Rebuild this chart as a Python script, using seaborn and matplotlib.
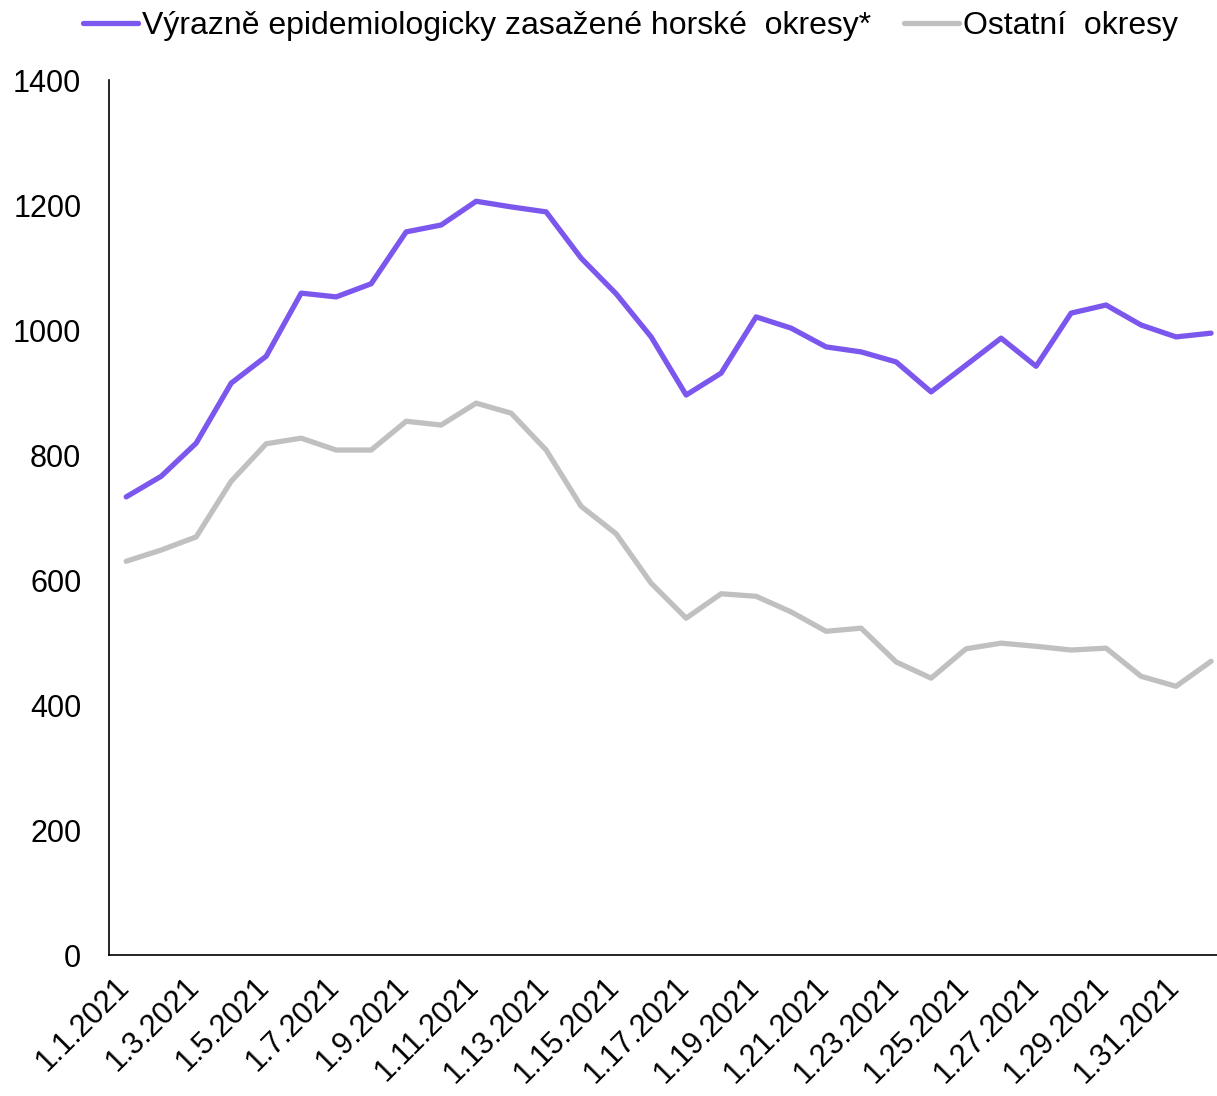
import pandas as pd
import matplotlib
matplotlib.use("Agg")
import matplotlib.pyplot as plt
import matplotlib.transforms as mtransforms
import seaborn as sns

# data (one value per day)
days = [f"1.{d}.2021" for d in range(1, 33)]
horske = [733, 766, 819, 915, 958, 1059, 1053, 1074, 1157, 1168, 1206, 1197,
          1189, 1115, 1058, 989, 896, 931, 1021, 1003, 973, 965, 949, 901,
          944, 987, 942, 1027, 1040, 1008, 989, 995]
ostatni = [630, 648, 669, 758, 818, 827, 808, 808, 854, 848, 883, 867,
           808, 718, 674, 595, 539, 578, 574, 549, 518, 523, 469, 443,
           490, 499, 494, 488, 491, 446, 430, 470]

label_a = "Výrazně epidemiologicky zasažené horské  okresy*"
label_b = "Ostatní  okresy"

df = pd.DataFrame({"den": days, label_a: horske, label_b: ostatni})
long_df = df.melt(id_vars="den", var_name="skupina", value_name="hodnota")
long_df["pos"] = long_df["den"].map({d: i for i, d in enumerate(days)})

sns.set_style("white")
plt.rcParams["font.family"] = ["Liberation Sans", "DejaVu Sans"]
plt.rcParams["text.color"] = "black"
plt.rcParams["xtick.color"] = "black"
plt.rcParams["ytick.color"] = "black"

fig = plt.figure(figsize=(12.17, 10.96), dpi=100)
ax = fig.add_axes([0.0896, 0.1286, 0.9104, 0.7984])

sns.lineplot(data=long_df, x="pos", y="hodnota", hue="skupina",
             palette=["#7B57EE", "#C0C0C0"], linewidth=3.8, ax=ax, legend=False)

ax.set_xlim(-0.49, 31.17)
ax.set_ylim(0, 1400)
ax.set_yticks(range(0, 1401, 200))
ax.set_xticks(range(0, 32, 2))
ax.set_xticklabels(days[::2], rotation=45, ha="right", rotation_mode="anchor")
ax.tick_params(axis="both", labelsize=22, length=0)
ax.tick_params(axis="y", pad=20)
ax.tick_params(axis="x", pad=12)
# shift x labels a bit to the left, like the original
shift = mtransforms.ScaledTranslation(-12 / 100, 0, fig.dpi_scale_trans)
for lbl in ax.get_xticklabels():
    lbl.set_transform(lbl.get_transform() + shift)
ax.set_xlabel("")
ax.set_ylabel("")
for side in ["top", "right"]:
    ax.spines[side].set_visible(False)
for side in ["left", "bottom"]:
    ax.spines[side].set_color("black")
    ax.spines[side].set_linewidth(1.2)

handles = [plt.Line2D([], [], color="#7B57EE", lw=3.8),
           plt.Line2D([], [], color="#C0C0C0", lw=3.8)]
fig.legend(handles, [label_a, label_b], loc="upper center", ncol=2,
           bbox_to_anchor=(0.518, 1.016), frameon=False, fontsize=23,
           handlelength=1.72, handletextpad=0.12, columnspacing=1.03)

fig.savefig("out.png", dpi=100)
